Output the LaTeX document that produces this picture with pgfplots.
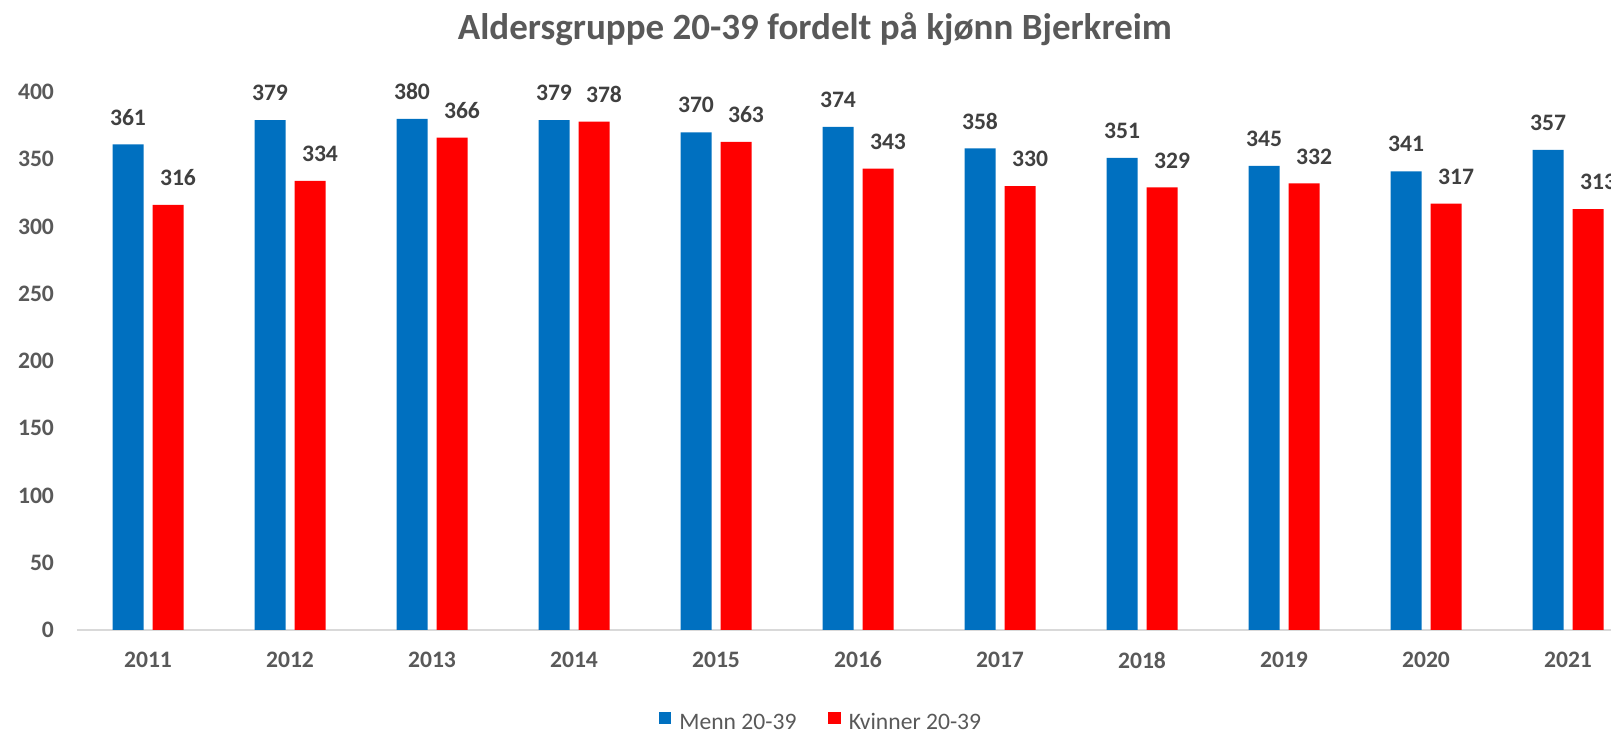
\documentclass[border=0pt]{standalone}
\usepackage{pgfplots}
\pgfplotsset{compat=1.18}
\usepackage{fontspec}
\setmainfont{Carlito}
\definecolor{menn}{HTML}{0070C0}
\definecolor{kvinner}{HTML}{FF0000}
\definecolor{txt}{HTML}{595959}
\definecolor{lbl}{HTML}{404040}
\definecolor{axln}{HTML}{D9D9D9}
\newcommand{\lblfont}{\fontsize{11.8}{14}\selectfont}

\pgfplotstableread{
x menn kvinner
0 361 316
1 379 334
2 380 366
3 379 378
4 370 363
5 374 343
6 358 330
7 351 329
8 345 332
9 341 317
10 357 313
}\bjerkreim

\begin{document}
\begin{tikzpicture}[x=0.5pt,y=0.5pt]
% 1 unit = 1 px of the 1611x732 reference, origin at the axis' lower left
\useasboundingbox (-77,-102) rectangle (1534,630);
\clip (-77,-102) rectangle (1534,630);
\begin{axis}[at={(0,0)},anchor=south west,scale only axis,
  width=781pt,height=269pt,
  xmin=-0.5,xmax=10.5,ymin=0,ymax=400,
  ybar,bar width=15.5pt,
  xtick={0,...,10},
  xticklabels={2011,2012,2013,2014,2015,2016,2017,2018,2019,2020,2021},
  ytick={0,50,...,400},
  axis x line*=bottom,axis y line*=left,
  x axis line style={draw=axln,line width=1pt,-},
  y axis line style={draw=none},
  major tick length=0pt,tick style={draw=none},
  /pgf/number format/assume math mode=true,
  ticklabel style={font=\bfseries\lblfont,text=txt},
  xticklabel style={yshift=-7.4pt},
  yticklabel style={xshift=-8pt},
  nodes near coords,
  nodes near coords style={font=\bfseries\lblfont,text=lbl,anchor=base,
    yshift=9.7pt},
  legend style={at={(axis description cs:0.477,-0.173)},anchor=center,
    draw=none,fill=none,legend columns=2,font=\lblfont,text=txt,
    /tikz/every even column/.append style={column sep=14pt}},
  legend image code/.code={\fill[#1] (0pt,-0.5pt) rectangle (6.2pt,5.7pt);},
]
\addplot[fill=menn,draw=none,bar shift=-10pt] table[x=x,y=menn] {\bjerkreim};
\addlegendentry{\,Menn 20-39}
\addplot[fill=kvinner,draw=none,bar shift=10pt,
  every node near coord/.append style={xshift=5pt}]
  table[x=x,y=kvinner] {\bjerkreim};
\addlegendentry{\,Kvinner 20-39}
\end{axis}
\node[font=\bfseries\fontsize{18.5}{22}\selectfont,text=txt] at (738,601)
  {Aldersgruppe 20-39 fordelt på kjønn Bjerkreim};
\end{tikzpicture}
\end{document}
